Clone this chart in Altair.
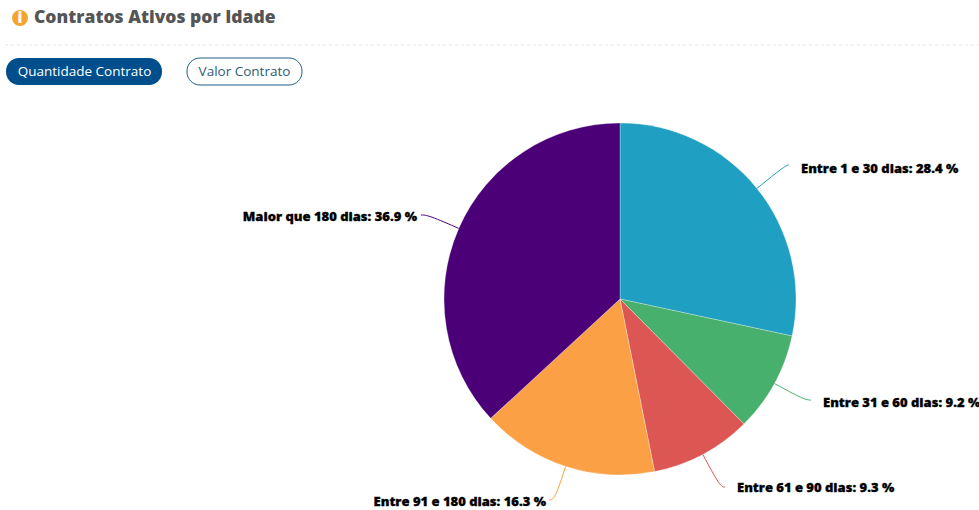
import math

import altair as alt
import pandas as pd

# Pie values, clockwise from twelve o'clock
categorias = ["Entre 1 e 30 dias", "Entre 31 e 60 dias", "Entre 61 e 90 dias",
              "Entre 91 e 180 dias", "Maior que 180 dias"]
percentuais = [28.4, 9.2, 9.3, 16.3, 36.9]
cores = ["#1f9fc1", "#46b06c", "#dc5653", "#fca045", "#4b0078"]

# Label anchors on the canvas: x, y and text alignment
rotulo_x = [801, 823, 737, 546, 417]
rotulo_y = [169, 403, 488, 502, 217]
rotulo_align = ["left", "left", "left", "right", "right"]
# Where each connector stops, next to its label
conector_x = [789, 811, 725, 549, 421]
conector_y = [165, 400, 487, 500, 215]

LARGURA, ALTURA = 979, 510
CX, CY, RAIO = 620, 299, 176

fatias = pd.DataFrame({"categoria": categorias, "percentual": percentuais,
                       "ordem": range(len(categorias))})

x_px = alt.X("x:Q", scale=alt.Scale(domain=[0, LARGURA], range=[0, LARGURA]), axis=None)
y_px = alt.Y("y:Q", scale=alt.Scale(domain=[0, ALTURA], range=[0, ALTURA]), axis=None)
cor = alt.Color("categoria:N", scale=alt.Scale(domain=categorias, range=cores), legend=None)

pizza = alt.Chart(fatias).mark_arc(outerRadius=RAIO, stroke="#ffffff", strokeWidth=0.3).encode(
    theta=alt.Theta("percentual:Q", stack=True),
    order=alt.Order("ordem:Q"),
    color=cor,
    x=alt.value(CX),
    y=alt.value(CY),
)

# Each connector leaves its slice radially at the mid-angle, then bends towards the label
total = sum(percentuais)
acumulado = 0.0
pontos = []
for nome, valor, xf, yf in zip(categorias, percentuais, conector_x, conector_y):
    angulo = 2 * math.pi * (acumulado + valor / 2) / total
    acumulado += valor
    seno, cosseno = math.sin(angulo), math.cos(angulo)
    r_dobra = (CY - yf) / cosseno
    pontos += [
        {"categoria": nome, "passo": 0, "x": CX + RAIO * seno, "y": CY - RAIO * cosseno},
        {"categoria": nome, "passo": 1, "x": CX + r_dobra * seno, "y": yf},
        {"categoria": nome, "passo": 2, "x": xf, "y": yf},
    ]

conectores = alt.Chart(pd.DataFrame(pontos)).mark_line(
    interpolate="basis", strokeWidth=1, clip=False
).encode(x=x_px, y=y_px, detail="categoria:N", order="passo:Q", color=cor)

rotulos_df = pd.DataFrame({
    "texto": [f"{n}: {v} %" for n, v in zip(categorias, percentuais)],
    "x": rotulo_x, "y": rotulo_y, "align": rotulo_align,
})
rotulos = [
    alt.Chart(rotulos_df[rotulos_df["align"] == a]).mark_text(
        align=a, baseline="middle", font="Open Sans", fontSize=13, fontWeight=800,
        color="#000000", stroke="#000000", strokeWidth=0.3,
    ).encode(x=x_px, y=y_px, text="texto:N")
    for a in ["left", "right"]
]

# Panel header: icon, title and dashed divider
fundo = pd.DataFrame({"k": [0]})
icone = alt.Chart(fundo).mark_circle(size=254, color="#f5a52d", opacity=1).encode(
    x=alt.value(20), y=alt.value(18))
icone_i = alt.Chart(fundo).mark_text(
    text="i", font="Open Sans", fontSize=15, fontWeight=800, color="#ffffff",
    align="center", baseline="middle",
).encode(x=alt.value(20), y=alt.value(18))
titulo = alt.Chart(fundo).mark_text(
    text="Contratos Ativos por Idade", font="Open Sans", fontSize=17.5, fontWeight=800,
    color="#555555", align="left", baseline="middle",
).encode(x=alt.value(34), y=alt.value(18))
divisor = alt.Chart(fundo).mark_rule(color="#e4e4e4", strokeDash=[3, 3], strokeWidth=1).encode(
    x=alt.value(5), x2=alt.value(LARGURA), y=alt.value(45))

# Toggle buttons above the pie
botao_ativo = alt.Chart(fundo).mark_rect(cornerRadius=13, color="#004f8c").encode(
    x=alt.value(6), x2=alt.value(162), y=alt.value(58), y2=alt.value(85))
botao_inativo = alt.Chart(fundo).mark_rect(
    cornerRadius=13, fill="#ffffff", stroke="#1f5f85", strokeWidth=1
).encode(x=alt.value(187), x2=alt.value(302), y=alt.value(58), y2=alt.value(85))
texto_ativo = alt.Chart(fundo).mark_text(
    text="Quantidade Contrato", font="Open Sans", fontSize=13.5, color="#ffffff",
    align="center", baseline="middle",
).encode(x=alt.value(84.5), y=alt.value(72))
texto_inativo = alt.Chart(fundo).mark_text(
    text="Valor Contrato", font="Open Sans", fontSize=13.5, color="#2f5a75",
    align="center", baseline="middle",
).encode(x=alt.value(244.5), y=alt.value(72))

chart = alt.layer(
    conectores, pizza, *rotulos, icone, icone_i, titulo, divisor,
    botao_ativo, botao_inativo, texto_ativo, texto_inativo,
).properties(
    width=LARGURA, height=ALTURA, padding=0, background="#ffffff",
    autosize=alt.AutoSizeParams(type="none"),
).configure_view(stroke=None)

chart.save("out.html", embed_options={"renderer": "svg", "actions": False})
